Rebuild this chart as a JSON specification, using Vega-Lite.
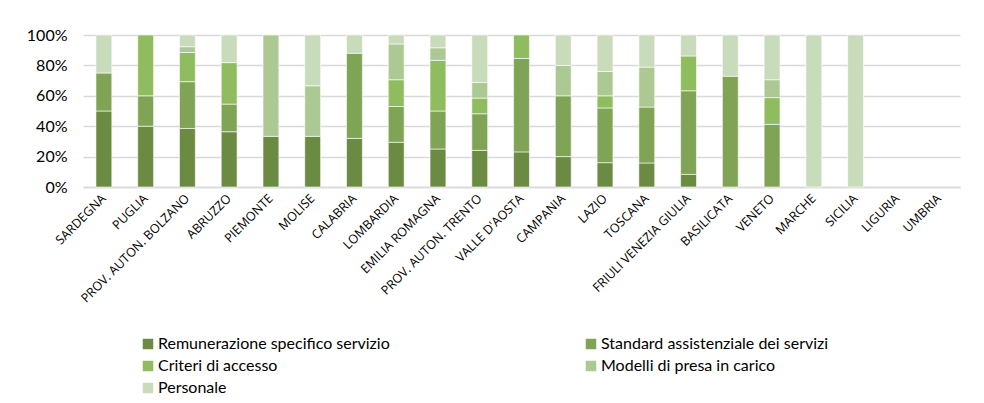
{
  "$schema": "https://vega.github.io/schema/vega-lite/v6.json",
  "width": 877,
  "height": 152,
  "autosize": {"type": "none"},
  "padding": {"left": 83, "top": 35, "right": 24, "bottom": 216},
  "background": "white",
  "config": {"view": {"stroke": null}, "font": "Lato"},
  "data": {
    "values": [
      {"regione": "SARDEGNA", "voce": "Remunerazione specifico servizio", "k": 1, "v": 50},
      {"regione": "SARDEGNA", "voce": "Standard assistenziale dei servizi", "k": 2, "v": 25},
      {"regione": "SARDEGNA", "voce": "Personale", "k": 5, "v": 25},
      {"regione": "PUGLIA", "voce": "Remunerazione specifico servizio", "k": 1, "v": 40},
      {"regione": "PUGLIA", "voce": "Standard assistenziale dei servizi", "k": 2, "v": 20},
      {"regione": "PUGLIA", "voce": "Criteri di accesso", "k": 3, "v": 40},
      {"regione": "PROV. AUTON. BOLZANO", "voce": "Remunerazione specifico servizio", "k": 1, "v": 38.5},
      {"regione": "PROV. AUTON. BOLZANO", "voce": "Standard assistenziale dei servizi", "k": 2, "v": 30.8},
      {"regione": "PROV. AUTON. BOLZANO", "voce": "Criteri di accesso", "k": 3, "v": 19.2},
      {"regione": "PROV. AUTON. BOLZANO", "voce": "Modelli di presa in carico", "k": 4, "v": 3.8},
      {"regione": "PROV. AUTON. BOLZANO", "voce": "Personale", "k": 5, "v": 7.7},
      {"regione": "ABRUZZO", "voce": "Remunerazione specifico servizio", "k": 1, "v": 36.4},
      {"regione": "ABRUZZO", "voce": "Standard assistenziale dei servizi", "k": 2, "v": 18.2},
      {"regione": "ABRUZZO", "voce": "Criteri di accesso", "k": 3, "v": 27.3},
      {"regione": "ABRUZZO", "voce": "Personale", "k": 5, "v": 18.2},
      {"regione": "PIEMONTE", "voce": "Remunerazione specifico servizio", "k": 1, "v": 33.3},
      {"regione": "PIEMONTE", "voce": "Modelli di presa in carico", "k": 4, "v": 66.7},
      {"regione": "MOLISE", "voce": "Remunerazione specifico servizio", "k": 1, "v": 33.3},
      {"regione": "MOLISE", "voce": "Modelli di presa in carico", "k": 4, "v": 33.3},
      {"regione": "MOLISE", "voce": "Personale", "k": 5, "v": 33.4},
      {"regione": "CALABRIA", "voce": "Remunerazione specifico servizio", "k": 1, "v": 32},
      {"regione": "CALABRIA", "voce": "Standard assistenziale dei servizi", "k": 2, "v": 56},
      {"regione": "CALABRIA", "voce": "Personale", "k": 5, "v": 12},
      {"regione": "LOMBARDIA", "voce": "Remunerazione specifico servizio", "k": 1, "v": 29.4},
      {"regione": "LOMBARDIA", "voce": "Standard assistenziale dei servizi", "k": 2, "v": 23.5},
      {"regione": "LOMBARDIA", "voce": "Criteri di accesso", "k": 3, "v": 17.6},
      {"regione": "LOMBARDIA", "voce": "Modelli di presa in carico", "k": 4, "v": 23.5},
      {"regione": "LOMBARDIA", "voce": "Personale", "k": 5, "v": 5.9},
      {"regione": "EMILIA ROMAGNA", "voce": "Remunerazione specifico servizio", "k": 1, "v": 25},
      {"regione": "EMILIA ROMAGNA", "voce": "Standard assistenziale dei servizi", "k": 2, "v": 25},
      {"regione": "EMILIA ROMAGNA", "voce": "Criteri di accesso", "k": 3, "v": 33.3},
      {"regione": "EMILIA ROMAGNA", "voce": "Modelli di presa in carico", "k": 4, "v": 8.3},
      {"regione": "EMILIA ROMAGNA", "voce": "Personale", "k": 5, "v": 8.4},
      {"regione": "PROV. AUTON. TRENTO", "voce": "Remunerazione specifico servizio", "k": 1, "v": 24.1},
      {"regione": "PROV. AUTON. TRENTO", "voce": "Standard assistenziale dei servizi", "k": 2, "v": 24.1},
      {"regione": "PROV. AUTON. TRENTO", "voce": "Criteri di accesso", "k": 3, "v": 10.3},
      {"regione": "PROV. AUTON. TRENTO", "voce": "Modelli di presa in carico", "k": 4, "v": 10.3},
      {"regione": "PROV. AUTON. TRENTO", "voce": "Personale", "k": 5, "v": 31.2},
      {"regione": "VALLE D'AOSTA", "voce": "Remunerazione specifico servizio", "k": 1, "v": 23.1},
      {"regione": "VALLE D'AOSTA", "voce": "Standard assistenziale dei servizi", "k": 2, "v": 61.5},
      {"regione": "VALLE D'AOSTA", "voce": "Criteri di accesso", "k": 3, "v": 15.4},
      {"regione": "CAMPANIA", "voce": "Remunerazione specifico servizio", "k": 1, "v": 20},
      {"regione": "CAMPANIA", "voce": "Standard assistenziale dei servizi", "k": 2, "v": 40},
      {"regione": "CAMPANIA", "voce": "Modelli di presa in carico", "k": 4, "v": 20},
      {"regione": "CAMPANIA", "voce": "Personale", "k": 5, "v": 20},
      {"regione": "LAZIO", "voce": "Remunerazione specifico servizio", "k": 1, "v": 16},
      {"regione": "LAZIO", "voce": "Standard assistenziale dei servizi", "k": 2, "v": 36},
      {"regione": "LAZIO", "voce": "Criteri di accesso", "k": 3, "v": 8},
      {"regione": "LAZIO", "voce": "Modelli di presa in carico", "k": 4, "v": 16},
      {"regione": "LAZIO", "voce": "Personale", "k": 5, "v": 24},
      {"regione": "TOSCANA", "voce": "Remunerazione specifico servizio", "k": 1, "v": 15.8},
      {"regione": "TOSCANA", "voce": "Standard assistenziale dei servizi", "k": 2, "v": 36.8},
      {"regione": "TOSCANA", "voce": "Modelli di presa in carico", "k": 4, "v": 26.3},
      {"regione": "TOSCANA", "voce": "Personale", "k": 5, "v": 21.1},
      {"regione": "FRIULI VENEZIA GIULIA", "voce": "Remunerazione specifico servizio", "k": 1, "v": 8.3},
      {"regione": "FRIULI VENEZIA GIULIA", "voce": "Standard assistenziale dei servizi", "k": 2, "v": 55},
      {"regione": "FRIULI VENEZIA GIULIA", "voce": "Criteri di accesso", "k": 3, "v": 22.9},
      {"regione": "FRIULI VENEZIA GIULIA", "voce": "Personale", "k": 5, "v": 13.8},
      {"regione": "BASILICATA", "voce": "Standard assistenziale dei servizi", "k": 2, "v": 72.9},
      {"regione": "BASILICATA", "voce": "Personale", "k": 5, "v": 27.1},
      {"regione": "VENETO", "voce": "Standard assistenziale dei servizi", "k": 2, "v": 41.2},
      {"regione": "VENETO", "voce": "Criteri di accesso", "k": 3, "v": 17.6},
      {"regione": "VENETO", "voce": "Modelli di presa in carico", "k": 4, "v": 11.8},
      {"regione": "VENETO", "voce": "Personale", "k": 5, "v": 29.4},
      {"regione": "MARCHE", "voce": "Personale", "k": 5, "v": 100},
      {"regione": "SICILIA", "voce": "Personale", "k": 5, "v": 100}
    ]
  },
  "mark": {"type": "bar", "stroke": "white", "strokeWidth": 0.6},
  "encoding": {
    "x": {
      "field": "regione",
      "type": "nominal",
      "sort": null,
      "scale": {
        "domain": ["SARDEGNA", "PUGLIA", "PROV. AUTON. BOLZANO", "ABRUZZO", "PIEMONTE", "MOLISE", "CALABRIA", "LOMBARDIA", "EMILIA ROMAGNA", "PROV. AUTON. TRENTO", "VALLE D'AOSTA", "CAMPANIA", "LAZIO", "TOSCANA", "FRIULI VENEZIA GIULIA", "BASILICATA", "VENETO", "MARCHE", "SICILIA", "LIGURIA", "UMBRIA"],
        "paddingInner": 0.62,
        "paddingOuter": 0.31
      },
      "axis": {
        "title": null,
        "labelAngle": -45,
        "labelAlign": "right",
        "labelBaseline": "middle",
        "labelFontSize": 12.5,
        "labelFont": "Open Sans",
        "labelColor": "#000000",
        "labelPadding": 9,
        "ticks": false,
        "domain": true,
        "domainColor": "#D9D9D9",
        "domainWidth": 1.5
      }
    },
    "y": {
      "field": "v",
      "type": "quantitative",
      "stack": "normalize",
      "scale": {"domain": [0, 1]},
      "axis": {
        "title": null,
        "format": ".0%",
        "values": [0, 0.2, 0.4, 0.6, 0.8, 1],
        "labelFontSize": 16,
        "labelColor": "#000000",
        "labelPadding": 16,
        "ticks": false,
        "domain": false,
        "gridColor": "#D9D9D9",
        "gridWidth": 1.5
      }
    },
    "color": {
      "field": "voce",
      "type": "nominal",
      "scale": {
        "domain": ["Remunerazione specifico servizio", "Criteri di accesso", "Personale", "Standard assistenziale dei servizi", "Modelli di presa in carico"],
        "range": ["#6B8A42", "#8FBC5F", "#C8DBBB", "#80A455", "#ADC993"]
      },
      "legend": {
        "title": null,
        "orient": "none",
        "legendX": 57,
        "legendY": 301,
        "columns": 2,
        "columnPadding": 193,
        "rowPadding": 6,
        "symbolType": "square",
        "symbolSize": 110,
        "symbolStrokeWidth": 0,
        "labelFontSize": 16,
        "labelColor": "#000000",
        "labelOffset": 2,
        "labelLimit": 400
      }
    },
    "order": {"field": "k", "type": "quantitative"}
  }
}
